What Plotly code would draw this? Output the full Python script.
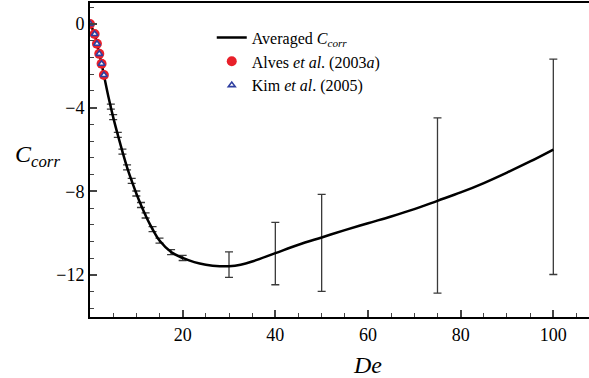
import plotly.graph_objects as go

# Averaged C_corr curve
curve_de = [0, 1, 1.5, 2, 2.5, 3, 4, 5, 6, 7, 8, 9, 10, 11, 12, 13, 14, 15, 17.5, 20,
            22.5, 25, 28, 30, 32.5, 35, 40, 45, 50, 55, 60, 65, 70, 75, 80, 85, 90, 95, 100]
curve_c = [0, -0.48, -0.95, -1.43, -1.9, -2.44, -3.5, -4.45, -5.3, -6.1, -6.85, -7.5, -8.1,
           -8.65, -9.15, -9.6, -10.0, -10.35, -10.9, -11.18,
           -11.38, -11.5, -11.57, -11.57, -11.5, -11.35, -10.95, -10.55, -10.2, -9.85,
           -9.52, -9.2, -8.85, -8.45, -8.05, -7.6, -7.1, -6.57, -6.0]

# error bars on the averaged curve
err_de = [4.5, 5, 6, 7, 8, 9, 10, 11, 12, 13.5, 15, 17.5, 20, 30, 40, 50, 75, 100]
err_c = [-3.95, -4.45, -5.3, -6.1, -6.85, -7.5, -8.1, -8.65, -9.15, -9.8, -10.35, -10.9,
         -11.18, -11.57, -10.95, -10.2, -8.45, -6.0]
err_up = [0.12] * 13 + [0.68, 1.47, 2.06, 3.96, 4.32]
err_down = [0.12] * 13 + [0.54, 1.51, 2.58, 4.41, 5.97]

# Alves et al. (2003a) and Kim et al. (2005)
ref_de = [0, 1, 1.5, 2, 2.5, 3]
alves_c = [0, -0.48, -0.95, -1.43, -1.9, -2.44]
kim_c = [0, -0.48, -0.95, -1.43, -1.9, -2.44]

x_ticks = [20, 40, 60, 80, 100]
y_ticks = [0, -4, -8, -12]

SERIF = "Liberation Serif"

fig = go.Figure()
fig.add_trace(go.Scatter(
    x=err_de, y=err_c, mode="markers", marker=dict(size=1, color="rgba(0,0,0,0)"),
    error_y=dict(type="data", symmetric=False, array=err_up, arrayminus=err_down,
                 color="#3a3a3a", thickness=1.3, width=4),
    showlegend=False, hoverinfo="skip"))
fig.add_trace(go.Scatter(
    x=curve_de, y=curve_c, mode="lines", line=dict(color="black", width=2.5, shape="spline"),
    name="Averaged <i>C</i><sub><i>corr</i></sub>"))
fig.add_trace(go.Scatter(
    x=ref_de, y=alves_c, mode="markers",
    marker=dict(symbol="circle", size=10, color="#e8202a", line=dict(width=0)),
    name="Alves <i>et al</i>. (2003<i>a</i>)"))
fig.add_trace(go.Scatter(
    x=ref_de, y=kim_c, mode="markers",
    marker=dict(symbol="triangle-up", size=6, color="white", line=dict(width=1.6, color="#2f3fa0")),
    name="Kim <i>et al</i>. (2005)"))

fig.update_layout(
    width=589, height=378,
    margin=dict(l=90, r=0, t=3, b=61),
    paper_bgcolor="white", plot_bgcolor="white",
    font=dict(family=SERIF, size=18, color="black"),
    legend=dict(x=0.244, y=0.944, xanchor="left", yanchor="top",
                bgcolor="rgba(0,0,0,0)", font=dict(family=SERIF, size=16, color="black"),
                tracegroupgap=0, itemwidth=30),
    xaxis=dict(range=[0, 107.7], tickvals=x_ticks, ticks="inside", ticklen=7, tickwidth=1.5,
               showline=True, linewidth=2, linecolor="black", mirror=True, showgrid=False,
               zeroline=False, tickfont=dict(family=SERIF, size=18, color="black"),
               minor=dict(dtick=5, tick0=0, ticks="inside", ticklen=4, tickwidth=1, showgrid=False)),
    yaxis=dict(range=[-14, 1], tickvals=y_ticks, ticks="inside", ticklen=7, tickwidth=1.5,
               showline=True, linewidth=2, linecolor="black", showgrid=False,
               zeroline=False, tickfont=dict(family=SERIF, size=18, color="black"),
               minor=dict(dtick=0.8, tick0=0, ticks="inside", ticklen=4, tickwidth=1, showgrid=False)),
    annotations=[
        dict(text="<i>C</i><sub><i>corr</i></sub>", xref="paper", yref="y", x=0, y=-6.3,
             xanchor="right", yanchor="middle", xshift=-28, showarrow=False,
             font=dict(family=SERIF, size=24, color="black")),
        dict(text="<i>De</i>", xref="x", yref="paper", x=60, y=0,
             xanchor="center", yanchor="middle", yshift=-48, showarrow=False,
             font=dict(family=SERIF, size=24, color="black")),
    ],
)
fig.write_html("out.html")
